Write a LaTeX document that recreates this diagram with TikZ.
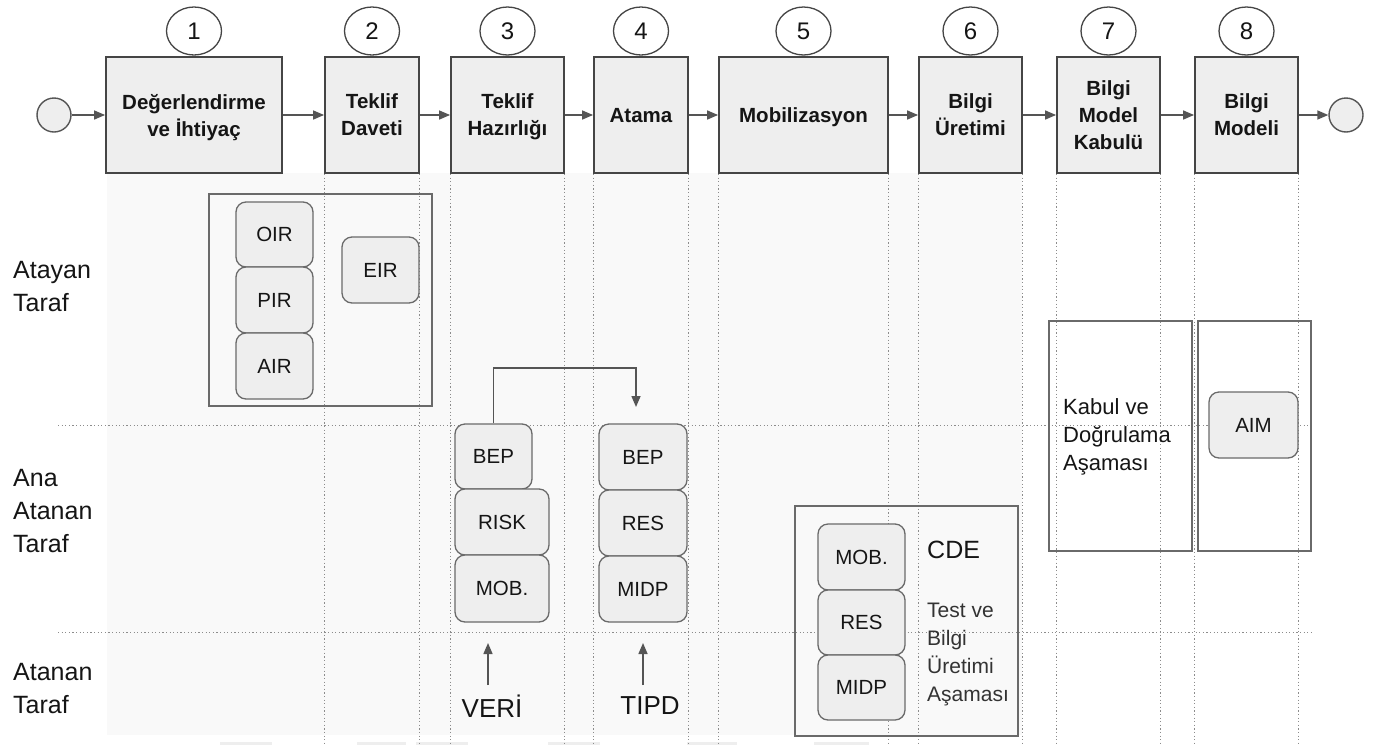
\documentclass[tikz,border=0pt]{standalone}
\usepackage{fontspec}
\setmainfont{Liberation Sans}
\usetikzlibrary{arrows.meta,shapes.geometric}
\definecolor{boxfill}{HTML}{EEEEEE}
\definecolor{boxline}{HTML}{454545}
\definecolor{softline}{HTML}{6A6A6A}
\definecolor{arrowc}{HTML}{555555}
\definecolor{lanebg}{HTML}{F9F9F9}
\definecolor{dotline}{HTML}{8C8C8C}
\definecolor{inkc}{HTML}{151515}
\definecolor{greyink}{HTML}{333333}
\definecolor{stub}{HTML}{EEEEEE}

\begin{document}
\begin{tikzpicture}[x=1pt,y=-1pt,
  stage/.style={draw=boxline, line width=1.8pt, fill=boxfill, inner sep=0pt,
    minimum height=116pt, align=center, text=inkc, text depth=0pt,
    font=\bfseries\fontsize{20.5}{27}\selectfont},
  numtag/.style={ellipse, draw=boxline, line width=1.3pt, fill=white,
    minimum width=55pt, minimum height=48pt, inner sep=0pt, text=inkc,
    font=\fontsize{24}{24}\selectfont},
  endpoint/.style={circle, draw=arrowc, line width=1.4pt, fill=boxfill,
    minimum size=34pt, inner sep=0pt},
  doc/.style={draw=softline, line width=1.3pt, fill=boxfill, rounded corners=10pt,
    inner sep=0pt, minimum height=66pt, text=inkc,
    font=\fontsize{20.5}{24}\selectfont},
  frame/.style={draw=softline, line width=1.4pt, inner sep=0pt},
  lanelabel/.style={anchor=west, align=left, inner sep=0pt, text=inkc,
    font=\fontsize{25}{33}\selectfont},
  note/.style={anchor=west, align=left, inner sep=0pt, text=greyink,
    font=\fontsize{21}{28}\selectfont},
  conn/.style={draw=arrowc, line width=1.5pt, -{Triangle[length=11pt,width=9pt]}},
  dotgrid/.style={draw=dotline, line width=1pt, dash pattern=on 1.2pt off 2.4pt}
]
% canvas and shaded lane area
\fill[white] (0,0) rectangle (1373,745);
\useasboundingbox (0,0) rectangle (1373,745);
\fill[lanebg] (107,173) rectangle (1022,735);

% faint stubs along the lower edge
\foreach \a/\b in {220/272, 357/406, 416/468, 548/600, 687/737, 814/869}
  \fill[stub] (\a,742) rectangle (\b,745);

% process stages
\node[stage, minimum width=176pt] (b1) at (194,115) {Değerlendirme\\ve İhtiyaç};
\node[stage, minimum width=94pt]  (b2) at (372,115) {Teklif\\Daveti};
\node[stage, minimum width=113pt] (b3) at (507.5,115) {Teklif\\Hazırlığı};
\node[stage, minimum width=94pt]  (b4) at (641,115) {Atama};
\node[stage, minimum width=169pt] (b5) at (803.5,115) {Mobilizasyon};
\node[stage, minimum width=103pt] (b6) at (970.5,115) {Bilgi\\Üretimi};
\node[stage, minimum width=103pt] (b7) at (1108.5,115) {Bilgi\\Model\\Kabulü};
\node[stage, minimum width=103pt] (b8) at (1246.5,115) {Bilgi\\Modeli};

% stage numbers
\foreach \i in {1,...,8}
  \node[numtag] (n\i) at (b\i.north |- 0,31) {\i};

% start and end
\node[endpoint] (start) at (54,115) {};
\node[endpoint] (finish) at (1346,115) {};

\draw[conn] (start) -- (b1);
\foreach \i/\j in {1/2,2/3,3/4,4/5,5/6,6/7,7/8}
  \draw[conn] (b\i) -- (b\j);
\draw[conn] (b8) -- (finish);

% lane grid
\coordinate (floor) at (0,745);
\foreach \i in {2,...,8}{
  \draw[dotgrid] (b\i.south west) -- (b\i.south west |- floor);
  \draw[dotgrid] (b\i.south east) -- (b\i.south east |- floor);
}
\coordinate (laneAL) at (58,425);
\coordinate (laneAR) at (1314,425);
\coordinate (laneBL) at (58,632);
\coordinate (laneBR) at (1314,632);
\draw[dotgrid] (laneAL) -- (laneAR);
\draw[dotgrid] (laneBL) -- (laneBR);

% lane names
\node[lanelabel] (laneA) at (13,287) {Atayan\\Taraf};
\node[lanelabel] (laneB) at (13,511) {Ana\\Atanan\\Taraf};
\node[lanelabel] (laneC) at (13,689) {Atanan\\Taraf};

% appointing party requirements
\node[frame, minimum width=223pt, minimum height=212pt] (reqgroup) at (320.5,300) {};
\node[doc, minimum width=77pt, minimum height=65pt] (oir) at (274.5,234.5) {OIR};
\node[doc, minimum width=77pt] (pir) at (274.5,300) {PIR};
\node[doc, minimum width=77pt] (air) at (274.5,366) {AIR};
\node[doc, minimum width=77pt] (eir) at (380.5,270) {EIR};

% tender response
\node[doc, minimum width=77pt, minimum height=65pt] (bepA) at (493.5,456.5) {BEP};
\node[doc, minimum width=94pt] (risk) at (502,522) {RISK};
\node[doc, minimum width=94pt, minimum height=67pt] (mobA) at (502,588.5) {MOB.};

% appointment documents
\node[doc, minimum width=88pt] (bepB) at (643,457) {BEP};
\node[doc, minimum width=88pt] (resB) at (643,523) {RES};
\node[doc, minimum width=88pt] (midpB) at (643,589) {MIDP};

% pre-appointment BEP carried into the appointment
\coordinate (bend) at (636,368);
\coordinate (handoff) at (636,407);
\draw[conn] (bepA.north) |- (bend) -- (handoff);

% inputs from the appointed parties
\node[inner sep=0pt, text=inkc, font=\fontsize{26}{26}\selectfont] (veri) at (492,706) {VERİ};
\node[inner sep=0pt, text=inkc, font=\fontsize{26}{26}\selectfont] (tipd) at (650,706) {TIPD};
\coordinate (veriTip) at (488,643);
\coordinate (tipdTip) at (643,643);
\draw[conn] (veriTip |- 0,685) -- (veriTip);
\draw[conn] (tipdTip |- 0,685) -- (tipdTip);

% CDE, test and production
\node[frame, minimum width=223pt, minimum height=230pt] (cde) at (906.5,621) {};
\node[doc, minimum width=87pt] (mobC) at (861.5,557) {MOB.};
\node[doc, minimum width=87pt, minimum height=65pt] (resC) at (861.5,622.5) {RES};
\node[doc, minimum width=87pt, minimum height=65pt] (midpC) at (861.5,687.5) {MIDP};
\node[anchor=west, inner sep=0pt, text=inkc, font=\fontsize{25}{25}\selectfont] (cdename) at (927,550) {CDE};
\node[note] (testnote) at (927,654.5) {Test ve\\Bilgi\\Üretimi\\Aşaması};

% acceptance and information model
\node[frame, minimum width=143pt, minimum height=230pt] (accept) at (1120.5,436) {};
\node[frame, minimum width=113pt, minimum height=230pt] (model) at (1254.5,436) {};
\node[note, text=inkc, font=\fontsize{22}{28}\selectfont] (acceptnote) at (1063,436.5) {Kabul ve\\Doğrulama\\Aşaması};
\node[doc, minimum width=89pt] (aim) at (1253.5,425) {AIM};
\end{tikzpicture}
\end{document}
